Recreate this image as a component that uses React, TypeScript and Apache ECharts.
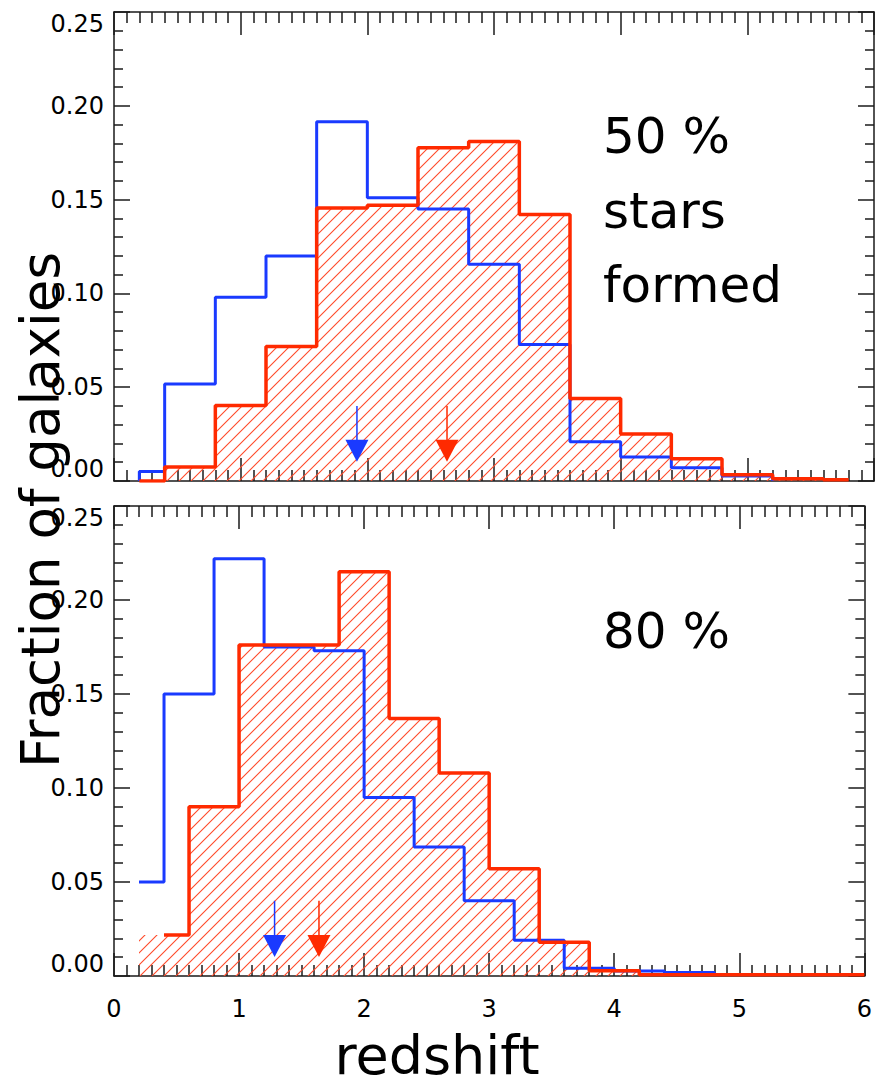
import React, { useEffect, useRef } from "react";
import * as echarts from "echarts";

// ---- data ----
const xTickLabels = ["0", "1", "2", "3", "4", "5", "6"];
const yTickLabels = ["0.00", "0.05", "0.10", "0.15", "0.20", "0.25"];

// top panel (50 % stars formed)
const topBlueEdges = [0.2, 0.4, 0.8, 1.2, 1.6, 2.0, 2.4, 2.8, 3.2, 3.6, 4.0, 4.4, 4.8, 5.2];
const topBlueVals = [0.005, 0.0517, 0.098, 0.12, 0.1915, 0.151, 0.145, 0.1155, 0.0728, 0.0209, 0.0128, 0.007, 0.0027];
const topRedEdges = [0.2, 0.4, 0.8, 1.2, 1.6, 2.0, 2.4, 2.8, 3.2, 3.6, 4.0, 4.4, 4.8, 5.2, 5.6, 5.8];
const topRedVals = [0, 0.0075, 0.0403, 0.0717, 0.1455, 0.147, 0.1776, 0.181, 0.142, 0.044, 0.0251, 0.0118, 0.0033, 0.0012, 0.0006];

// bottom panel (80 %)
const botBlueEdges = [0.2, 0.4, 0.8, 1.2, 1.6, 2.0, 2.4, 2.8, 3.2, 3.6, 4.0, 4.4, 4.8];
const botBlueVals = [0.05, 0.15, 0.222, 0.175, 0.173, 0.095, 0.0686, 0.04, 0.019, 0.0041, 0.0027, 0.0018];
const botRedEdges = [0.2, 0.6, 1.0, 1.4, 1.8, 2.2, 2.6, 3.0, 3.4, 3.8, 4.2, 6.0];
const botRedVals = [0.0218, 0.09, 0.176, 0.176, 0.215, 0.137, 0.108, 0.057, 0.018, 0.0028, 0.0006];
const botRedOutlineStart = 0.4;

// median arrows: [x, top of shaft, tip, colour index]
const topArrows = [
  [1.918, 0.04, 0.0102, 0],
  [2.629, 0.04, 0.0102, 1],
];
const botArrows = [
  [1.284, 0.04, 0.0101, 0],
  [1.639, 0.04, 0.0101, 1],
];

const panelTexts = ["50 %", "stars", "formed"];
const panelText2 = "80 %";
const xTitle = "redshift";
const yTitle = "Fraction of galaxies";

const BLUE = "#1a3aff";
const RED = "#ff2a00";
const AXIS = "#1a1a1a";
const TICKFONT = "DejaVu Sans";

function steps(edges: number[], vals: number[], startZero: boolean, endZero: boolean) {
  const pts: number[][] = [];
  if (startZero) pts.push([edges[0], 0]);
  vals.forEach((v, i) => {
    pts.push([edges[i], v]);
    pts.push([edges[i + 1], v]);
  });
  if (endZero) pts.push([edges[edges.length - 1], 0]);
  return pts;
}

export default function App() {
  const ref = useRef<HTMLDivElement>(null);

  useEffect(() => {
    if (!ref.current) return;
    const chart = echarts.init(ref.current, null, { renderer: "svg" });

    const S = 12;
    const c = document.createElement("canvas");
    c.width = S;
    c.height = S;
    const ctx = c.getContext("2d")!;
    ctx.strokeStyle = "#ff4a2a";
    ctx.lineWidth = 1.1;
    ctx.beginPath();
    ctx.moveTo(-1, S + 1);
    ctx.lineTo(S + 1, -1);
    ctx.moveTo(-2, 2);
    ctx.lineTo(2, -2);
    ctx.moveTo(S - 2, S + 2);
    ctx.lineTo(S + 2, S - 2);
    ctx.stroke();
    const hatch: any = { image: c.toDataURL(), repeat: "repeat", imageWidth: S, imageHeight: S };

    const grids = [
      { left: 114, top: 12, width: 760, height: 469 },
      { left: 114, top: 506, width: 760, height: 470 },
    ];

    const xAx = (gridIndex: number, position: string, labels: boolean) => ({
      type: "value",
      gridIndex,
      position,
      min: 0,
      max: 6,
      interval: 1,
      axisLine: { show: true, onZero: false, lineStyle: { color: AXIS, width: 1.5 } },
      axisTick: { show: true, inside: true, length: 23, lineStyle: { color: AXIS, width: 1.5 } },
      minorTick: { show: true, splitNumber: 10, length: 11, lineStyle: { color: AXIS, width: 1.5 } },
      splitLine: { show: false },
      axisLabel: {
        show: labels,
        margin: 21,
        fontSize: 24,
        fontFamily: TICKFONT,
        color: "#000",
        formatter: (v: number) => xTickLabels[Math.round(v)] ?? "",
      },
    });
    const yAx = (gridIndex: number, position: string, labels: boolean) => ({
      type: "value",
      gridIndex,
      position,
      min: 0,
      max: 0.25,
      interval: 0.05,
      axisLine: { show: true, onZero: false, lineStyle: { color: AXIS, width: 1.5 } },
      axisTick: { show: true, inside: true, length: 16, lineStyle: { color: AXIS, width: 1.5 } },
      minorTick: { show: true, splitNumber: 5, length: 9, lineStyle: { color: AXIS, width: 1.5 } },
      splitLine: { show: false },
      axisLabel: {
        show: labels,
        margin: 10,
        fontSize: 24,
        fontFamily: TICKFONT,
        color: "#000",
        verticalAlignMinLabel: "bottom",
        verticalAlignMaxLabel: "top",
        formatter: (v: number) => yTickLabels[Math.round(v / 0.05)] ?? "",
      },
    });

    const arrowRender = (params: any, api: any) => {
      const x = api.value(0);
      const p1 = api.coord([x, api.value(1)]);
      const p2 = api.coord([x, api.value(2)]);
      const col = api.value(3) === 0 ? BLUE : RED;
      const h = 22;
      const w = 11.5;
      return {
        type: "group",
        children: [
          {
            type: "line",
            shape: { x1: p1[0], y1: p1[1], x2: p2[0], y2: p2[1] - h + 2 },
            style: { stroke: col, lineWidth: 1.5 },
          },
          {
            type: "polygon",
            shape: { points: [[p2[0] - w, p2[1] - h], [p2[0] + w, p2[1] - h], [p2[0], p2[1]]] },
            style: { fill: col },
          },
        ],
      };
    };

    const lineSeries = (xi: number, yi: number, data: number[][], color: string, width: number, fill: boolean, z: number) => ({
      type: "line",
      xAxisIndex: xi,
      yAxisIndex: yi,
      data,
      symbol: "none",
      showSymbol: false,
      silent: true,
      z,
      lineStyle: { color, width: width, opacity: width > 0 ? 1 : 0 },
      areaStyle: fill ? { color: hatch, opacity: 1 } : undefined,
    });

    const botRedOutlineEdges = [botRedOutlineStart, ...botRedEdges.slice(1)];

    chart.setOption({
      animation: false,
      backgroundColor: "#fff",
      grid: grids,
      xAxis: [xAx(0, "bottom", false), xAx(0, "top", false), xAx(1, "bottom", true), xAx(1, "top", false)],
      yAxis: [yAx(0, "left", true), yAx(0, "right", false), yAx(1, "left", true), yAx(1, "right", false)],
      series: [
        // top panel
        lineSeries(0, 0, steps(topRedEdges, topRedVals, true, false), RED, 0, true, 1),
        lineSeries(0, 0, steps(topBlueEdges, topBlueVals, true, true), BLUE, 3, false, 2),
        lineSeries(0, 0, steps(topRedEdges, topRedVals, true, false), RED, 3.5, false, 3),
        { type: "custom", xAxisIndex: 0, yAxisIndex: 0, data: topArrows, renderItem: arrowRender, z: 4, silent: true },
        // bottom panel
        lineSeries(2, 2, steps(botRedEdges, botRedVals, true, false), RED, 0, true, 1),
        lineSeries(2, 2, steps(botBlueEdges, botBlueVals, false, true), BLUE, 3, false, 2),
        lineSeries(2, 2, steps(botRedOutlineEdges, botRedVals, false, false), RED, 3.5, false, 3),
        { type: "custom", xAxisIndex: 2, yAxisIndex: 2, data: botArrows, renderItem: arrowRender, z: 4, silent: true },
      ],
      graphic: [
        ...panelTexts.map((t, i) => ({
          type: "text",
          x: 603,
          y: [136, 211, 285][i],
          z: 10,
          style: { text: t, font: "50px 'DejaVu Sans'", fill: "#000", textAlign: "left", textVerticalAlign: "middle" },
        })),
        {
          type: "text",
          x: 603,
          y: 631,
          z: 10,
          style: { text: panelText2, font: "50px 'DejaVu Sans'", fill: "#000", textAlign: "left", textVerticalAlign: "middle" },
        },
        {
          type: "text",
          x: 437,
          y: 1055,
          z: 10,
          style: { text: xTitle, font: "54px 'DejaVu Sans'", fill: "#000", textAlign: "center", textVerticalAlign: "middle" },
        },
        {
          type: "text",
          x: 40,
          y: 510,
          rotation: Math.PI / 2,
          z: 10,
          style: { text: yTitle, font: "53px 'DejaVu Sans'", fill: "#000", textAlign: "center", textVerticalAlign: "middle" },
        },
      ],
    });

    return () => chart.dispose();
  }, []);

  return (
    <div
      ref={ref}
      style={{ position: "fixed", left: 0, top: 0, width: 875, height: 1086, background: "#fff" }}
    />
  );
}
